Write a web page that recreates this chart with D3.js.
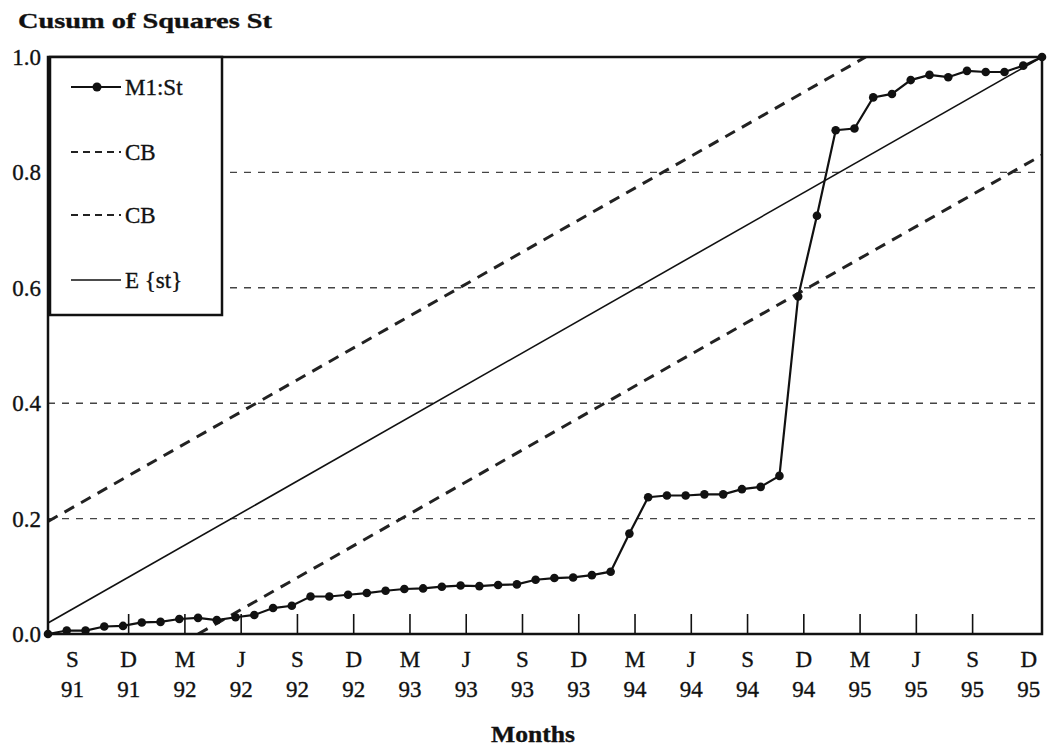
<!DOCTYPE html>
<html>
<head>
<meta charset="utf-8">
<title>Cusum of Squares St</title>
<script src="https://d3js.org/d3.v7.min.js"></script>
<style>
    body { margin:0; background:#fff; }
    text { font-family: "Liberation Serif", "Times New Roman", serif; fill:#111; stroke:#111; stroke-width:0.35px; }
    .title, .xtitle { font-weight:bold; }
    .grid { stroke:#444; stroke-width:1.4px; stroke-dasharray:7 7; }
    .cb { fill:none; stroke:#222; stroke-width:3px; stroke-dasharray:11 8; }
    .est { fill:none; stroke:#111; stroke-width:1.6px; }
    .st { fill:none; stroke:#111; stroke-width:2.2px; }
    .dot { fill:#111; }
    .frame { fill:none; stroke:#111; stroke-width:2.5px; }
</style>
</head>
<body>
<div id="chart"></div>
<script>
    // one value a month, 54 months
    var st = [0.000, 0.006, 0.006, 0.013, 0.014, 0.020, 0.021, 0.026, 0.028, 0.024,
              0.029, 0.033, 0.045, 0.049, 0.065, 0.065, 0.068, 0.071, 0.075, 0.078,
              0.079, 0.082, 0.084, 0.083, 0.085, 0.086, 0.094, 0.097, 0.098, 0.102,
              0.108, 0.174, 0.237, 0.240, 0.240, 0.242, 0.242, 0.251, 0.255, 0.274,
              0.585, 0.725, 0.873, 0.876, 0.930, 0.936, 0.960, 0.969, 0.965, 0.976,
              0.974, 0.974, 0.985, 1.000];
    // straight lines, as end points [month, value]
    var est = [[0, 0.019], [53, 1.0]];
    var cbUpper = [[0, 0.195], [43.6, 1.0]];
    var cbLower = [[8.0, 0.0], [53, 0.83]];

    var monthLabels = ["S","D","M","J","S","D","M","J","S","D","M","J","S","D","M","J","S","D"];
    var yearLabels = ["91","91","92","92","92","92","93","93","93","93","94","94","94","94","95","95","95","95"];
    var yTicks = [0, 0.2, 0.4, 0.6, 0.8, 1.0];
    var gridValues = [0.2, 0.4, 0.6, 0.8];

    var width = 1050, height = 749;
    var pLeft = 48, pRight = 1042, pTop = 57, pBottom = 634;

    var x = d3.scaleLinear().domain([0, 53]).range([pLeft, pRight]);
    var y = d3.scaleLinear().domain([0, 1]).range([pBottom, pTop]);

    var svg = d3.select("#chart").append("svg")
        .attr("width", width).attr("height", height);

    svg.append("clipPath").attr("id", "plot")
        .append("rect").attr("x", pLeft).attr("y", pTop)
        .attr("width", pRight - pLeft).attr("height", pBottom - pTop);

    // dashed gridlines
    svg.append("g").selectAll("line")
        .data(gridValues).enter().append("line")
        .attr("class", "grid")
        .attr("x1", pLeft).attr("x2", pRight)
        .attr("y1", d => y(d)).attr("y2", d => y(d));

    var line = d3.line().x(d => x(d[0])).y(d => y(d[1]));
    var g = svg.append("g").attr("clip-path", "url(#plot)");

    g.append("path").datum(est).attr("class", "est").attr("d", line);
    g.append("path").datum(cbUpper).attr("class", "cb").attr("d", line);
    g.append("path").datum(cbLower).attr("class", "cb").attr("d", line);

    // x ticks every 3 months, first at S91
    var tickPos = monthLabels.map((m, k) => 1.3 + 3 * k);
    var xAxis = svg.append("g");
    xAxis.selectAll("line")
        .data(tickPos.slice(1, -1)).enter().append("line")
        .attr("x1", d => x(d)).attr("x2", d => x(d))
        .attr("y1", pBottom).attr("y2", pBottom - 20)
        .attr("stroke", "#111").attr("stroke-width", 1.6);

    var stLine = d3.line().x((d, i) => x(i)).y(d => y(d));
    svg.append("path").datum(st).attr("class", "st").attr("d", stLine);
    svg.append("g").selectAll("circle")
        .data(st).enter().append("circle")
        .attr("class", "dot")
        .attr("cx", (d, i) => x(i)).attr("cy", d => y(d)).attr("r", 4.3);

    xAxis.selectAll("text.m")
        .data(monthLabels).enter().append("text")
        .attr("class", "m")
        .attr("x", (d, k) => x(tickPos[k])).attr("y", 667)
        .attr("text-anchor", "middle").attr("font-size", 23)
        .text(d => d);
    xAxis.selectAll("text.yr")
        .data(yearLabels).enter().append("text")
        .attr("class", "yr")
        .attr("x", (d, k) => x(tickPos[k])).attr("y", 697)
        .attr("text-anchor", "middle").attr("font-size", 23)
        .text(d => d);

    svg.append("text").attr("class", "xtitle")
        .attr("x", 533).attr("y", 742)
        .attr("text-anchor", "middle").attr("font-size", 24)
        .attr("textLength", 84).attr("lengthAdjust", "spacingAndGlyphs")
        .text("Months");

    // y labels
    svg.append("g").selectAll("text")
        .data(yTicks).enter().append("text")
        .attr("x", 41).attr("y", d => y(d) + 8)
        .attr("text-anchor", "end").attr("font-size", 23)
        .text(d => d3.format(".1f")(d));

    svg.append("text").attr("class", "title")
        .attr("x", 18).attr("y", 28).attr("font-size", 22)
        .attr("textLength", 254).attr("lengthAdjust", "spacingAndGlyphs")
        .text("Cusum of Squares St");

    // frame
    svg.append("rect").attr("class", "frame")
        .attr("x", pLeft).attr("y", pTop)
        .attr("width", pRight - pLeft).attr("height", pBottom - pTop);

    // legend
    var lg = svg.append("g");
    lg.append("rect")
        .attr("x", 50).attr("y", 57).attr("width", 172).attr("height", 258)
        .attr("fill", "#fff").attr("stroke", "#111").attr("stroke-width", 2.5);
    var items = [
        {label: "M1:St", cls: "st", y: 87, dot: true},
        {label: "CB", cls: "cb", y: 152},
        {label: "CB", cls: "cb", y: 215},
        {label: "E {st}", cls: "est", y: 280}
    ];
    items.forEach(function(it) {
        lg.append("line").attr("class", it.cls)
            .attr("x1", 71).attr("x2", 121)
            .attr("y1", it.y).attr("y2", it.y)
            .style("stroke-width", it.cls == "cb" ? 2.2 : null)
            .style("stroke-dasharray", it.cls == "cb" ? "7 5" : null);
        if (it.dot) {
            lg.append("circle").attr("class", "dot")
                .attr("cx", 97).attr("cy", it.y).attr("r", 4.5);
        }
        lg.append("text")
            .attr("x", 125).attr("y", it.y + 8).attr("font-size", 23)
            .text(it.label);
    });
</script>
</body>
</html>
